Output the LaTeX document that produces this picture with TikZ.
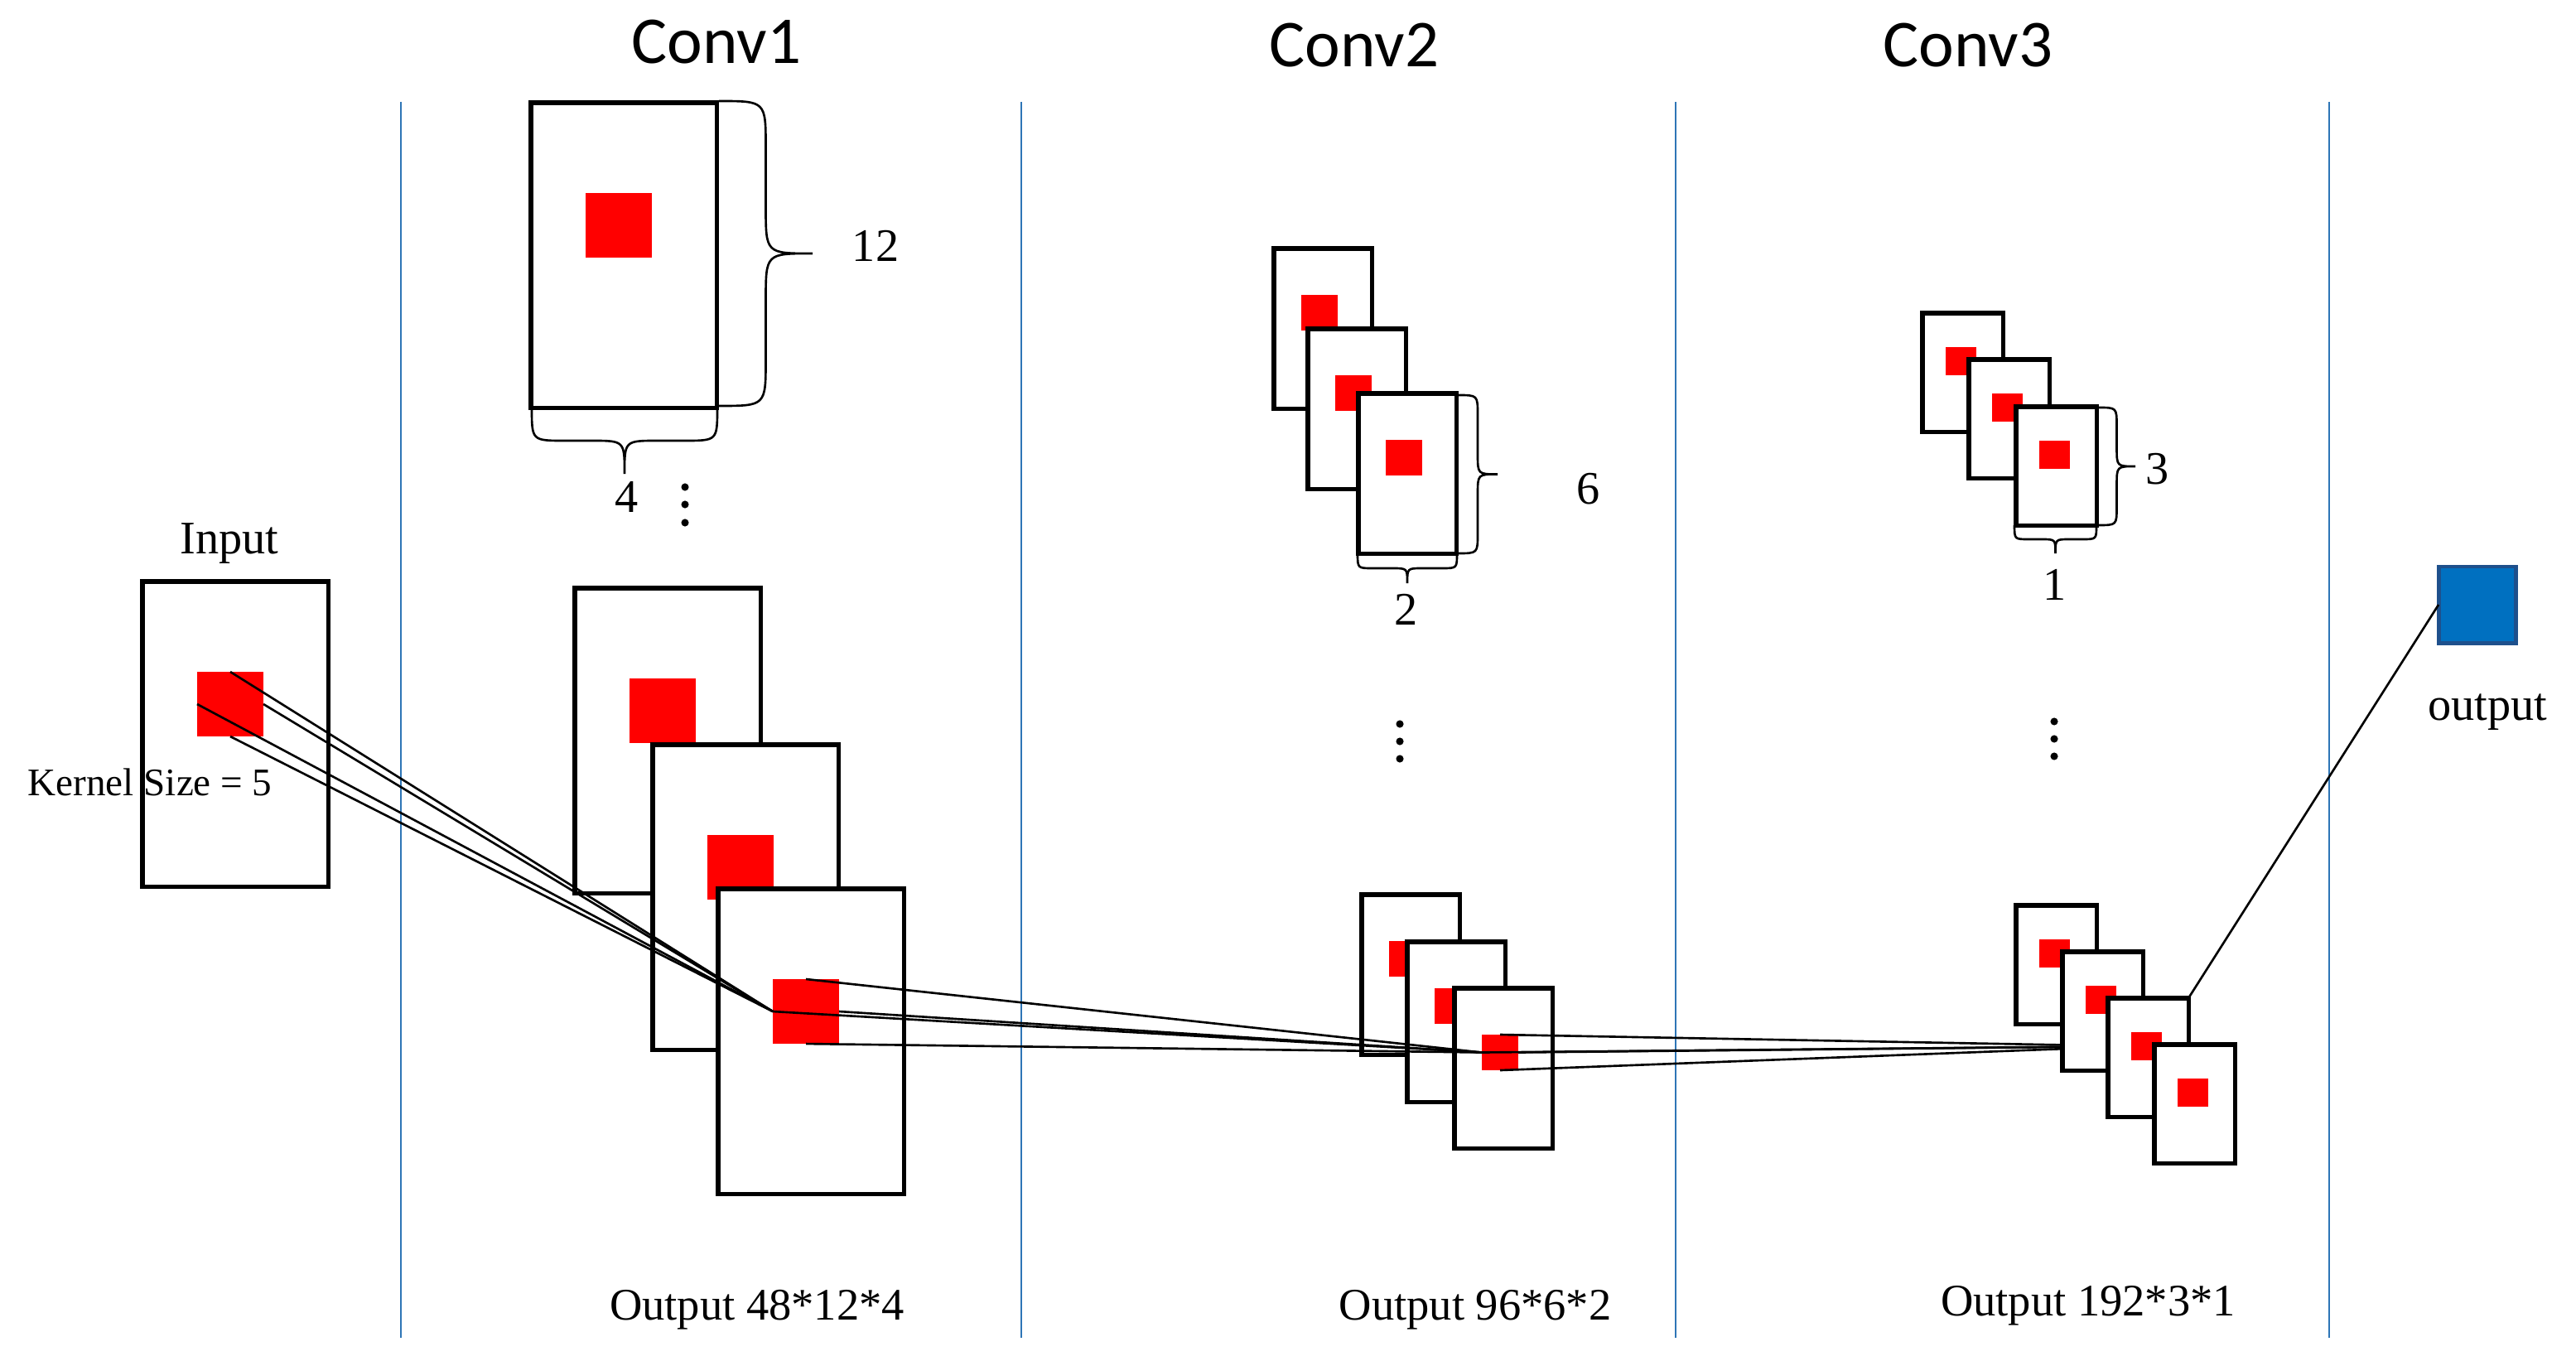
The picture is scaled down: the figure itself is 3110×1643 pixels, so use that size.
\documentclass[tikz,border=0pt]{standalone}
\usepackage{fontspec}
\setmainfont{Liberation Serif}
\newfontfamily\calib{Carlito}
\definecolor{sepblue}{RGB}{46,117,182}
\definecolor{outfill}{RGB}{0,112,192}
\definecolor{outedge}{RGB}{30,80,140}
\tikzset{
  mapbox/.style={rectangle, draw=black, line width=1.45pt, fill=white, inner sep=0pt, outer sep=0pt, anchor=north west},
  redsq/.style={rectangle, fill=red, inner sep=0pt, outer sep=0pt, anchor=north west},
  conn/.style={draw=black, line width=0.75pt},
  bracestyle/.style={draw=black, line width=0.75pt},
  sep/.style={draw=sepblue, line width=0.8pt},
  lbl/.style={inner sep=0pt, anchor=base, font=\fontsize{16}{19}\selectfont},
  outlbl/.style={inner sep=0pt, anchor=base, font=\fontsize{15.5}{18}\selectfont},
  title/.style={inner sep=0pt, anchor=base, font=\calib\fontsize{23}{27}\selectfont},
  outsq/.style={rectangle, draw=outedge, line width=1.4pt, fill=outfill, inner sep=0pt, outer sep=0pt, anchor=north west}
}
\newcommand{\bigmap}[3]{%
  \node[mapbox, minimum width=2.24cm, minimum height=3.68cm] (#1) at (#2+2,#3+2) {};
  \node[redsq, minimum width=0.80cm, minimum height=0.78cm] (#1R) at (#2+68,#3+111) {};
}
\newcommand{\midmap}[3]{%
  \node[mapbox, minimum width=1.18cm, minimum height=1.93cm] (#1) at (#2+2,#3+2) {};
  \node[redsq, minimum width=0.44cm, minimum height=0.43cm] (#1R) at (#2+35,#3+58) {};
}
\newcommand{\smallmap}[3]{%
  \node[mapbox, minimum width=0.97cm, minimum height=1.43cm] (#1) at (#2+2,#3+2) {};
  \node[redsq, minimum width=0.37cm, minimum height=0.34cm] (#1R) at (#2+30,#3+43) {};
}
% right brace: x0, y0, y1, xtip
\newcommand{\brR}[4]{%
  \pgfmathsetmacro\bA{(#4-#1)/2}
  \pgfmathsetmacro\bXm{#1+\bA}
  \pgfmathsetmacro\bYm{(#2+#3)/2}
  \draw[bracestyle] (#1,#2) .. controls (\bXm,#2) .. (\bXm,#2+\bA) -- (\bXm,\bYm-\bA)
    .. controls (\bXm,\bYm) .. (#4,\bYm) .. controls (\bXm,\bYm) .. (\bXm,\bYm+\bA)
    -- (\bXm,#3-\bA) .. controls (\bXm,#3) .. (#1,#3);
}
% bottom brace: x0, x1, y0, ytip
\newcommand{\brB}[4]{%
  \pgfmathsetmacro\bA{(#4-#3)/2}
  \pgfmathsetmacro\bYm{#3+\bA}
  \pgfmathsetmacro\bXm{(#1+#2)/2}
  \draw[bracestyle] (#1,#3) .. controls (#1,\bYm) .. (#1+\bA,\bYm) -- (\bXm-\bA,\bYm)
    .. controls (\bXm,\bYm) .. (\bXm,#4) .. controls (\bXm,\bYm) .. (\bXm+\bA,\bYm)
    -- (#2-\bA,\bYm) .. controls (#2,\bYm) .. (#2,#3);
}
\begin{document}
\begin{tikzpicture}[x=0.01cm, y=-0.01cm]
\useasboundingbox (0,0) rectangle (3110,1643);
\fill[white] (0,0) rectangle (3110,1643);

% separators
\draw[sep] (484,123) -- (484,1615);
\draw[sep] (1233,123) -- (1233,1615);
\draw[sep] (2023,123) -- (2023,1615);
\draw[sep] (2812,123) -- (2812,1615);

% titles
\node[title] (t1) at (865,77) {Conv1};
\node[title] (t2) at (1635,81) {Conv2};
\node[title] (t3) at (2376,81) {Conv3};

% input
\bigmap{in}{170}{700}
\node[lbl] (inlbl) at (277,669) {Input};

% conv1 top
\bigmap{c1t}{639}{122}
\brR{868}{122}{490}{981}
\brB{642}{866}{492}{572}
\node[lbl] (n12) at (1057,316) {12};
\node[lbl] (n4) at (757,619) {4};
\fill (827,588) circle[radius=1.3pt] (827,609) circle[radius=1.3pt] (827,631) circle[radius=1.3pt];

% conv1 bottom
\bigmap{c1a}{692}{708}
\bigmap{c1b}{786}{897}
\bigmap{c1c}{865}{1071}

% conv2 top
\midmap{c2t1}{1536}{298}
\midmap{c2t2}{1577}{395}
\midmap{c2t3}{1638}{473}
\brR{1760}{477}{668}{1808}
\brB{1639}{1759}{668}{704}
\node[lbl] (n6) at (1918,608) {6};
\node[lbl] (n2) at (1698,754) {2};
\fill (1690,874) circle[radius=1.3pt] (1690,895) circle[radius=1.3pt] (1690,916) circle[radius=1.3pt];

% conv2 bottom
\midmap{c2b1}{1642}{1078}
\midmap{c2b2}{1697}{1135}
\midmap{c2b3}{1754}{1191}

% connectors
\foreach \a in {north,east,west,south}{
  \draw[conn] (inR.\a) -- (c1cR.west);
  \draw[conn] (c1cR.\a) -- (c2b3R.west);
}
\node[inner sep=0pt, anchor=base west, font=\fontsize{13.4}{16}\selectfont] (kern) at (33,960) {Kernel Size = 5};

% conv3 top
\smallmap{c3t1}{2319}{376}
\smallmap{c3t2}{2375}{432}
\smallmap{c3t3}{2432}{489}
\brR{2533}{492}{634}{2578}
\brB{2432}{2531}{634}{668}
\node[lbl] (n3) at (2605,584) {3};
\node[lbl] (n1) at (2481,724) {1};
\fill (2480,871) circle[radius=1.3pt] (2480,892) circle[radius=1.3pt] (2480,913) circle[radius=1.3pt];

% conv3 bottom, first the connectors (they end under the maps)
\coordinate (c3target) at (2574,1263);
\foreach \a in {north,east,west,south}{
  \draw[conn] (c2b3R.\a) -- (c3target);
}
\smallmap{c3b1}{2432}{1091}
\smallmap{c3b2}{2488}{1147}
\smallmap{c3b3}{2543}{1203}
\smallmap{c3b4}{2599}{1259}

% output
\node[outsq, minimum width=0.93cm, minimum height=0.92cm] (out) at (2944,684) {};
\draw[conn] (out.west) -- (c3b3.north east);
\node[lbl] (outlbl) at (3003,869) {output};

% bottom labels
\node[outlbl] (o1) at (914,1593) {Output 48*12*4};
\node[outlbl] (o2) at (1781,1593) {Output 96*6*2};
\node[outlbl] (o3) at (2521,1588) {Output 192*3*1};
\end{tikzpicture}
\end{document}
